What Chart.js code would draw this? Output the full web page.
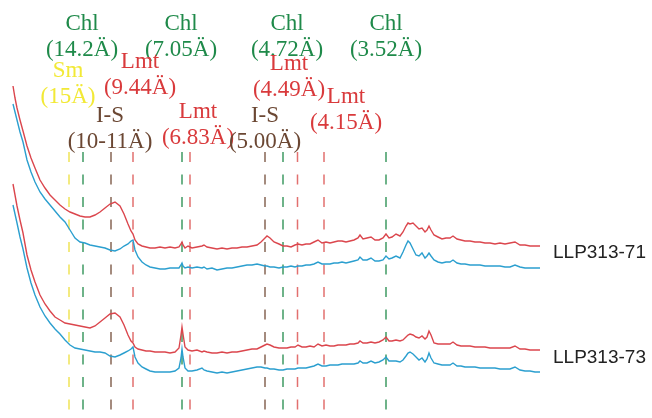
<!DOCTYPE html>
<html>
<head>
<meta charset="utf-8">
<script src="https://cdn.jsdelivr.net/npm/chart.js@4.4.1/dist/chart.umd.min.js"></script>
<style>
  html, body { margin: 0; padding: 0; background: #ffffff; }
  #wrap { position: relative; width: 652px; height: 418px; }
</style>
</head>
<body>
<div id="wrap"><canvas id="c"></canvas></div>
<script>
// ---- Data (2θ in degrees, intensity in arbitrary units, patterns stacked as drawn) ----
const twoTheta = [
  2.65,2.75,2.85,3.0,3.15,3.35,3.55,3.75,4.0,4.25,
  4.5,4.75,5.0,5.25,5.5,5.75,6.0,6.25,6.5,6.75,
  7.0,7.25,7.5,7.75,8.0,8.2,8.4,8.55,8.65,8.75,
  8.9,9.1,9.3,9.5,9.75,10.0,10.25,10.5,10.75,10.95,
  11.05,11.1,11.15,11.25,11.4,11.6,11.85,12.1,12.2,12.35,
  12.6,12.85,13.1,13.35,13.6,13.85,14.1,14.35,14.6,14.85,
  15.05,15.25,15.35,15.5,15.7,15.95,16.15,16.35,16.55,16.75,
  16.9,17.1,17.3,17.5,17.7,17.9,18.1,18.3,18.5,18.7,
  18.9,19.1,19.3,19.5,19.7,19.9,20.0,20.15,20.35,20.55,
  20.75,20.95,21.15,21.3,21.45,21.6,21.8,22.0,22.15,22.3,
  22.4,22.5,22.65,22.8,22.95,23.1,23.25,23.35,23.45,23.55,
  23.7,23.9,24.1,24.3,24.5,24.65,24.85,25.05,25.25,25.5,
  25.75,26.0,26.25,26.5,26.75,27.0,27.25,27.5,27.75,28.0,
  28.25,28.5,28.75,29.0
];

const llp71Red = [
  332,320,310,298,287,272,260,250,238,230,
  223,218,213,209,206,204,202,201,201,203,
  206,210,214,216,212,204,194,187,184,178,
  174,172,171,170,170,171,170,171,170,171,
  174,176,173,170,172,170,171,172,173,171,
  170,169,170,169,170,170,171,171,172,173,
  176,180,182,180,176,174,172,172,171,173,
  174,173,174,174,176,178,175,176,175,176,
  177,177,176,177,178,180,183,179,180,181,
  178,178,180,184,180,181,184,182,186,192,
  195,194,195,192,189,190,186,188,192,188,
  183,181,179,180,180,182,179,178,177,177,
  176,176,175,175,174,175,174,175,176,173,
  173,172,172,172
];

const llp71Blue = [
  314,306,298,286,276,258,246,236,226,219,
  213,207,201,196,188,180,176,175,173,172,
  171,170,168,167,169,172,174,177,178,168,
  161,156,153,151,150,149,149,150,150,150,
  153,155,152,150,151,150,151,150,151,149,
  150,148,149,150,150,151,152,153,153,154,
  153,152,152,151,151,150,151,151,152,151,
  152,152,153,153,154,156,154,154,154,155,
  155,156,155,156,157,158,161,158,158,160,
  157,157,158,162,159,160,162,160,166,173,
  177,175,169,163,162,165,160,162,165,162,
  158,156,155,156,156,158,155,154,154,153,
  153,153,152,152,152,152,151,151,153,151,
  150,150,150,150
];

const llp73Red = [
  234,223,212,198,185,163,148,136,123,114,
  107,101,98,95,94,93,92,91,90,92,
  96,100,104,105,101,93,83,77,75,71,
  69,68,67,67,66,66,66,65,66,70,
  83,91,84,71,68,67,68,66,67,66,
  65,65,66,65,66,66,67,68,69,69,
  71,73,74,73,71,70,70,70,71,71,
  73,71,71,72,71,74,72,73,72,72,
  73,73,73,74,74,75,77,75,75,76,
  75,76,78,81,77,77,78,77,78,81,
  83,84,83,81,80,82,79,81,87,83,
  75,74,74,74,74,76,73,72,72,72,
  71,71,71,70,70,70,70,70,72,69,
  69,68,68,68
];

const llp73Blue = [
  213,204,195,181,169,150,135,123,111,102,
  95,89,84,78,73,70,69,68,67,66,
  66,65,62,61,63,65,67,69,71,61,
  55,51,49,47,46,46,46,46,47,50,
  60,69,61,50,47,47,48,50,48,47,
  46,45,46,45,46,47,48,49,50,51,
  51,50,50,49,49,48,48,49,49,49,
  50,50,50,51,52,54,52,52,53,53,
  53,54,54,54,54,55,57,55,55,57,
  55,56,58,61,57,57,57,56,58,62,
  65,66,64,61,58,60,56,59,65,60,
  55,54,53,53,53,55,52,52,51,51,
  51,50,50,50,50,49,49,49,51,48,
  47,47,46,46
];

const sampleNames = ['LLP313-71', 'LLP313-73'];

// reference reflections (2θ) and their minerals
const refPeaks    = [5.45, 6.15, 7.55, 8.65, 11.1, 11.5, 15.25, 16.15, 16.875, 18.2, 21.3];
const refMinerals = ['Sm', 'Chl', 'I-S', 'Lmt', 'Chl', 'Lmt', 'I-S', 'Chl', 'Lmt', 'Lmt', 'Chl'];

// annotation texts
const labelMinerals = ['Chl', 'Chl', 'Chl', 'Chl', 'Sm', 'Lmt', 'I-S', 'Lmt', 'Lmt', 'I-S', 'Lmt'];
const labelSpacings = ['(14.2Ä)', '(7.05Ä)', '(4.72Ä)', '(3.52Ä)', '(15Ä)', '(9.44Ä)', '(10-11Ä)', '(6.83Ä)', '(4.49Ä)', '(5.00Ä)', '(4.15Ä)'];

// ---- Layout / style (not data) ----
const labelAnchors = [
  [6.1, 388], [11.05, 388], [16.35, 388], [21.3, 388],
  [5.4, 341], [9.0, 350], [7.5, 296], [11.9, 300],
  [16.45, 348], [15.25, 296], [19.3, 315]
];
const sampleLabelY = [160, 55];
const refLineTop = 266;

const lineColors = { 'Sm': '#efe457', 'Chl': '#3f9a63', 'I-S': '#866554', 'Lmt': '#e2706f' };
const textColors = { 'Sm': '#f2e936', 'Chl': '#1f8a4a', 'I-S': '#6b4733', 'Lmt': '#d93a3c' };
const RED = '#db464d';
const BLUE = '#2b9fcf';

const pts = arr => twoTheta.map((t, i) => ({ x: t, y: arr[i] }));

const datasets = [
  { data: pts(llp71Red), borderColor: RED, borderWidth: 1.4, order: 0 },
  { data: pts(llp71Blue), borderColor: BLUE, borderWidth: 1.4, order: 0 },
  { data: pts(llp73Red), borderColor: RED, borderWidth: 1.4, order: 0 },
  { data: pts(llp73Blue), borderColor: BLUE, borderWidth: 1.4, order: 0 }
];
refPeaks.forEach((p, i) => {
  datasets.push({
    data: [{ x: p, y: refLineTop }, { x: p, y: 0 }],
    borderColor: lineColors[refMinerals[i]],
    borderWidth: 1.5,
    borderDash: [10, 12.5],
    order: 5
  });
});

const annotate = {
  id: 'annotate',
  afterDatasetsDraw(chart) {
    const { ctx, scales: { x, y }, chartArea } = chart;
    ctx.save();
    ctx.font = '23px "Liberation Serif"';
    ctx.textAlign = 'center';
    ctx.textBaseline = 'alphabetic';
    labelMinerals.forEach((m, i) => {
      const px = x.getPixelForValue(labelAnchors[i][0]);
      const py = y.getPixelForValue(labelAnchors[i][1]);
      ctx.fillStyle = textColors[m];
      ctx.fillText(m, px, py);
      ctx.fillText(labelSpacings[i], px, py + 26);
    });
    ctx.font = '19px "Liberation Sans"';
    ctx.textAlign = 'left';
    ctx.fillStyle = '#222222';
    sampleNames.forEach((s, i) => {
      ctx.fillText(s, chartArea.right + 13, y.getPixelForValue(sampleLabelY[i]));
    });
    ctx.restore();
  }
};

new Chart(document.getElementById('c'), {
  type: 'line',
  data: { datasets },
  options: {
    responsive: true,
    maintainAspectRatio: false,
    animation: false,
    layout: { padding: { left: 0, right: 112, top: 0, bottom: 0 } },
    elements: { point: { radius: 0 }, line: { tension: 0, fill: false } },
    plugins: { legend: { display: false }, tooltip: { enabled: false } },
    scales: {
      x: { type: 'linear', min: 2, max: 29, display: false },
      y: { type: 'linear', min: 0, max: 418, display: false }
    }
  },
  plugins: [annotate]
});
</script>
</body>
</html>
